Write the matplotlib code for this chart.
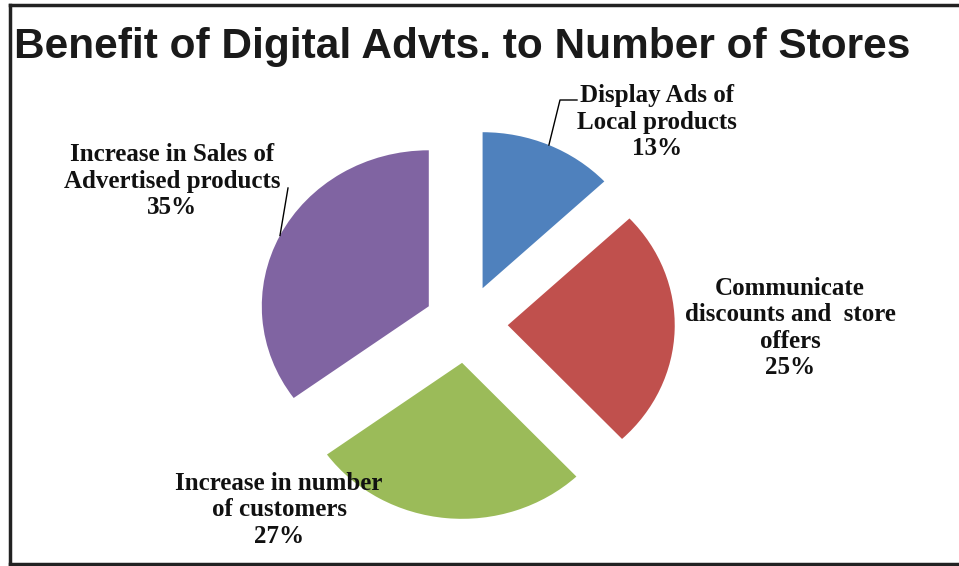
import numpy as np
import matplotlib
matplotlib.use("Agg")
import matplotlib.pyplot as plt
from matplotlib.lines import Line2D

# Data
categories = [
    "Display Ads of\nLocal products",
    "Communicate\ndiscounts and  store\noffers",
    "Increase in number\nof customers",
    "Increase in Sales of\nAdvertised products",
]
shares = [13, 25, 27, 35]
colors = ["#4F81BD", "#C0504D", "#9BBB59", "#8064A2"]
title = "Benefit of Digital Advts. to Number of Stores"

W, H = 959, 566
fig = plt.figure(figsize=(W / 100, H / 100), dpi=100)
ax = fig.add_axes([0, 0, 1, 1])

# Pie geometry in pixels (slightly wider than tall)
cx, cy = 466, 324
rx, ry = 167, 156
explode_r = 0.25

def px(x, y):
    """Convert pixel position (from top-left) into data coordinates."""
    return (x - cx) / rx, (cy - y) / ry

wedges, _ = ax.pie(shares, colors=colors, startangle=90, counterclock=False,
                   explode=[explode_r] * len(shares), radius=1.0, center=(0, 0),
                   wedgeprops=dict(linewidth=0))
ax.set_aspect("auto")
ax.set_xlim(-cx / rx, (W - cx) / rx)
ax.set_ylim((cy - H) / ry, cy / ry)
ax.axis("off")

serif = dict(family="Liberation Serif", weight="bold", fontsize=18,
             ha="center", va="center", linespacing=1.2, color="#111111")

label_pos = [(657, 122), (790, 328), (279, 510), (172, 181)]
for name, val, (lx, ly) in zip(categories, shares, label_pos):
    tx, ty = px(lx, ly)
    ax.text(tx, ty, f"{name}\n{val}%", **serif)

# Leader lines from the wedge arc at its mid-angle
def arc_point(w):
    mid = np.deg2rad((w.theta1 + w.theta2) / 2)
    c = w.center
    return c[0] + np.cos(mid) * w.r, c[1] + np.sin(mid) * w.r

bx, by = arc_point(wedges[0])
ex, ey = px(560, 100)
fx, fy = px(577, 100)
ax.plot([bx, ex, fx], [by, ey, fy], color="black", lw=1)

qx, qy = arc_point(wedges[3])
gx, gy = px(288, 188)
ax.plot([qx, gx], [qy, gy], color="black", lw=1)

fig.text(14 / W, 1 - 58 / H, title, family="Liberation Sans", weight="bold",
         fontsize=30.5, ha="left", va="baseline", color="#1a1a1a")

# Outer frame (left, top, bottom)
frame_kw = dict(color="#222222", lw=2.5, transform=fig.transFigure)
fig.add_artist(Line2D([10 / W, 10 / W], [1 - 5 / H, 1 - 564 / H], **frame_kw))
fig.add_artist(Line2D([10 / W, 1], [1 - 5 / H, 1 - 5 / H], **frame_kw))
fig.add_artist(Line2D([10 / W, 1], [1 - 564 / H, 1 - 564 / H], **frame_kw))

fig.savefig("out.png", dpi=100)
